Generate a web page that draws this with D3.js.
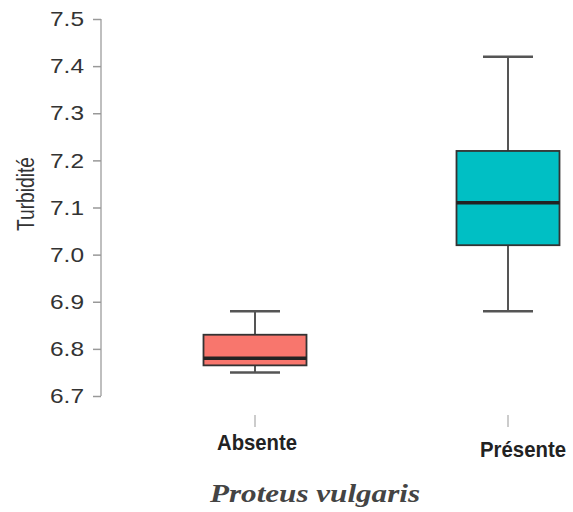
<!DOCTYPE html>
<html><head><meta charset="utf-8">
<script src="https://cdn.jsdelivr.net/npm/d3@7"></script>
<style>body{margin:0;background:#fff}</style>
</head><body>
<script>
const categories = ["Absente", "Présente"];
const whiskerLow = [6.75, 6.88];
const q1 = [6.765, 7.02];
const median = [6.78, 7.11];
const q3 = [6.83, 7.22];
const whiskerHigh = [6.88, 7.42];
const fills = ["#F8766D", "#00BFC4"];
const yTicks = [6.7, 6.8, 6.9, 7.0, 7.1, 7.2, 7.3, 7.4, 7.5];

const W = 573, H = 512;
const svg = d3.select("body").append("svg").attr("width", W).attr("height", H);

const y = d3.scaleLinear().domain([6.7, 7.5]).range([396, 19]);
const x = d3.scalePoint().domain(categories).range([255, 508]);
const boxW = 103, capW = 50;

// y axis
const ya = svg.append("g").attr("transform", "translate(101,0)")
  .call(d3.axisLeft(y).tickValues(yTicks).tickFormat(d3.format(".1f")).tickSize(8).tickPadding(9));
ya.select(".domain").attr("stroke", "#aaa").attr("stroke-width", 1.5).attr("d", `M0,${y(6.7)}V${y(7.5)}`);
ya.selectAll(".tick line").attr("stroke", "#999").attr("stroke-width", 1.5);
ya.selectAll(".tick text").attr("fill", "#333")
  .style("font-family", "Liberation Sans, Arial, sans-serif").style("font-size", "21px")
  .attr("textLength", 34).attr("lengthAdjust", "spacingAndGlyphs");

// x ticks
const xa = svg.append("g").attr("transform", "translate(0,415)");
xa.selectAll("line").data(categories).join("line")
  .attr("x1", d => x(d)).attr("x2", d => x(d)).attr("y1", 0).attr("y2", 12)
  .attr("stroke", "#bbb").attr("stroke-width", 1.5);
const labDx = [2, 15], labY = [450, 457], labLen = [80, 86];
xa.selectAll("text").data(categories).join("text")
  .attr("x", (d, i) => x(d) + labDx[i]).attr("y", (d, i) => labY[i] - 415)
  .attr("text-anchor", "middle")
  .style("font-family", "Liberation Sans, Arial, sans-serif")
  .style("font-weight", "bold").style("font-size", "22px").attr("fill", "#222")
  .attr("textLength", (d, i) => labLen[i]).attr("lengthAdjust", "spacingAndGlyphs")
  .text(d => d);

// boxes
const g = svg.append("g");
categories.forEach((c, i) => {
  const cx = x(c);
  g.append("line").attr("x1", cx).attr("x2", cx).attr("y1", y(whiskerHigh[i])).attr("y2", y(q3[i]))
    .attr("stroke", "#555").attr("stroke-width", 2);
  g.append("line").attr("x1", cx).attr("x2", cx).attr("y1", y(q1[i])).attr("y2", y(whiskerLow[i]))
    .attr("stroke", "#555").attr("stroke-width", 2);
  [whiskerHigh[i], whiskerLow[i]].forEach(v => {
    g.append("line").attr("x1", cx - capW / 2).attr("x2", cx + capW / 2).attr("y1", y(v)).attr("y2", y(v))
      .attr("stroke", "#555").attr("stroke-width", 2.5);
  });
  g.append("rect").attr("x", cx - boxW / 2).attr("width", boxW)
    .attr("y", y(q3[i])).attr("height", y(q1[i]) - y(q3[i]))
    .attr("fill", fills[i]).attr("stroke", "#333").attr("stroke-width", 1.8);
  g.append("line").attr("x1", cx - boxW / 2).attr("x2", cx + boxW / 2).attr("y1", y(median[i])).attr("y2", y(median[i]))
    .attr("stroke", "#222").attr("stroke-width", 3.5);
});

// y label
svg.append("text").attr("transform", "translate(34,194) rotate(-90)")
  .attr("text-anchor", "middle").attr("fill", "#333")
  .style("font-family", "Liberation Sans, Arial, sans-serif").style("font-size", "23px")
  .attr("textLength", 74).attr("lengthAdjust", "spacingAndGlyphs")
  .text("Turbidité");

// title
svg.append("text").attr("x", 315).attr("y", 502).attr("text-anchor", "middle")
  .attr("fill", "#444")
  .style("font-family", "Liberation Serif, Times New Roman, serif").style("font-style", "italic")
  .style("font-weight", "bold").style("font-size", "25px")
  .attr("textLength", 210).attr("lengthAdjust", "spacingAndGlyphs")
  .text("Proteus vulgaris");
</script>
</body></html>
